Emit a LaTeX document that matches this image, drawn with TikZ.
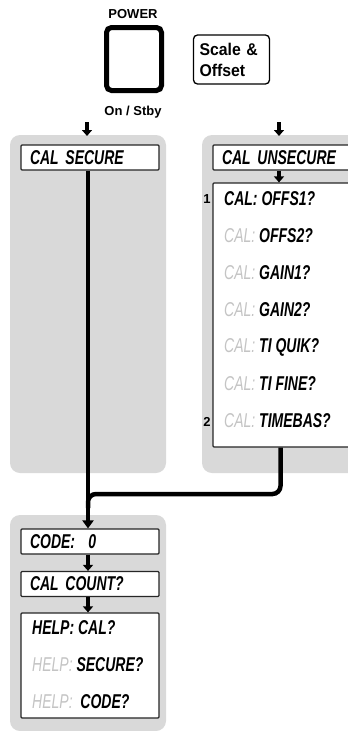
\documentclass[tikz,border=0pt]{standalone}
\usepackage{fontspec}
\setmainfont{Liberation Sans}
\newfontfamily\narrowfont{Liberation Sans}[FakeStretch=0.7]
\newfontfamily\keyfont{Liberation Sans}[FakeStretch=0.93]
\usetikzlibrary{arrows.meta,positioning}
\definecolor{panelgray}{RGB}{217,217,217}
\definecolor{dimtext}{RGB}{196,196,196}
\newcommand{\dimword}[1]{{\color{dimtext}\mdseries #1}}
\begin{document}
\begin{tikzpicture}[x=1pt,y=-1pt,
    panel/.style={fill=panelgray,rounded corners=10pt},
    disp node/.style={draw=black!85,line width=1.2pt,fill=white,rounded corners=1pt,
      inner xsep=9pt,inner ysep=0pt,text width=120pt,minimum height=25pt,align=left,
      font=\narrowfont\bfseries\itshape\fontsize{20}{22}\selectfont},
    list item/.style={anchor=west,inner sep=0pt,
      font=\narrowfont\bfseries\itshape\fontsize{20}{22}\selectfont},
    tag text/.style={inner sep=0pt,font=\bfseries\fontsize{13}{15}\selectfont},
    small arrow/.style={-{Triangle[width=10pt,length=6pt]},line width=3.5pt},
    main line/.style={line width=4.5pt}]
  \useasboundingbox (0,0) rectangle (348,731);
  % grey panels
  \fill[panel] (10,135) rectangle (166,473);
  \fill[panel] (202,135) rectangle (372,473);
  \fill[panel] (10,515) rectangle (166,731);
  % power key and scale key
  \node[tag text] (powerlbl) at (133,14) {POWER};
  \node[draw,line width=5pt,rounded corners=5pt,minimum width=55pt,minimum height=63pt] (power) at (134,59) {};
  \node[tag text] (stby) at (133,112) {On / Stby};
  \node[draw,line width=1.3pt,rounded corners=4pt,inner xsep=6pt,text width=64pt,minimum height=49pt,
    align=left,font=\keyfont\bfseries\fontsize{17}{21}\selectfont] (scale) at (231.5,59.5) {Scale \&\\Offset};
  % displays
  \node[disp node] (secure) at (90,157.5) {CAL SECURE};
  \node[disp node] (unsecure) at (282,157.5) {CAL UNSECURE};
  \node[disp node,minimum height=264pt] (callist) at (282,315) {};
  \node[list item] (c1) at (224,199) {CAL: OFFS1?};
  \foreach \name [count=\i from 2] in {OFFS2?,GAIN1?,GAIN2?,TI QUIK?,TI FINE?,TIMEBAS?}
    \node[list item] (c\i) at (224,199+37*\i-37) {\dimword{CAL:} \name};
  \node[tag text] (n1) at (207,199) {1};
  \node[tag text] (n2) at (207,422) {2};
  \node[disp node] (code) at (90,541.5) {CODE:~~0};
  \node[disp node] (count) at (90,584) {CAL COUNT?};
  \node[disp node,minimum height=105pt] (help) at (90,665.5) {};
  \node[list item] (h1) at (32,628) {HELP: CAL?};
  \node[list item] (h2) at (32,665) {\dimword{HELP:} SECURE?};
  \node[list item] (h3) at (32,702) {\dimword{HELP:}~~CODE?};
  % arrows
  \coordinate (sectop) at (87,122);
  \coordinate (secend) at (87,136);
  \coordinate (unstop) at (279,122);
  \coordinate (unsend) at (279,136);
  \coordinate (merge) at (88,494);
  \coordinate (mergeend) at (88,508);
  \draw[small arrow] (sectop) -- (secend);
  \draw[small arrow] (unstop) -- (unsend);
  \draw[small arrow] ([xshift=-3pt]unsecure.south) -- ([xshift=-3pt]callist.north);
  \draw[main line,-{Triangle[width=11pt,length=8pt]}] ([xshift=-2pt]secure.south) -- ([xshift=-2pt]code.north);
  \draw[main line,rounded corners=8pt] ([xshift=-1.5pt]callist.south) |- (merge) -- (mergeend);
  \draw[small arrow] ([xshift=-2pt]code.south) -- ([xshift=-2pt]count.north);
  \draw[small arrow] ([xshift=-2pt]count.south) -- ([xshift=-2pt]help.north);
\end{tikzpicture}
\end{document}
